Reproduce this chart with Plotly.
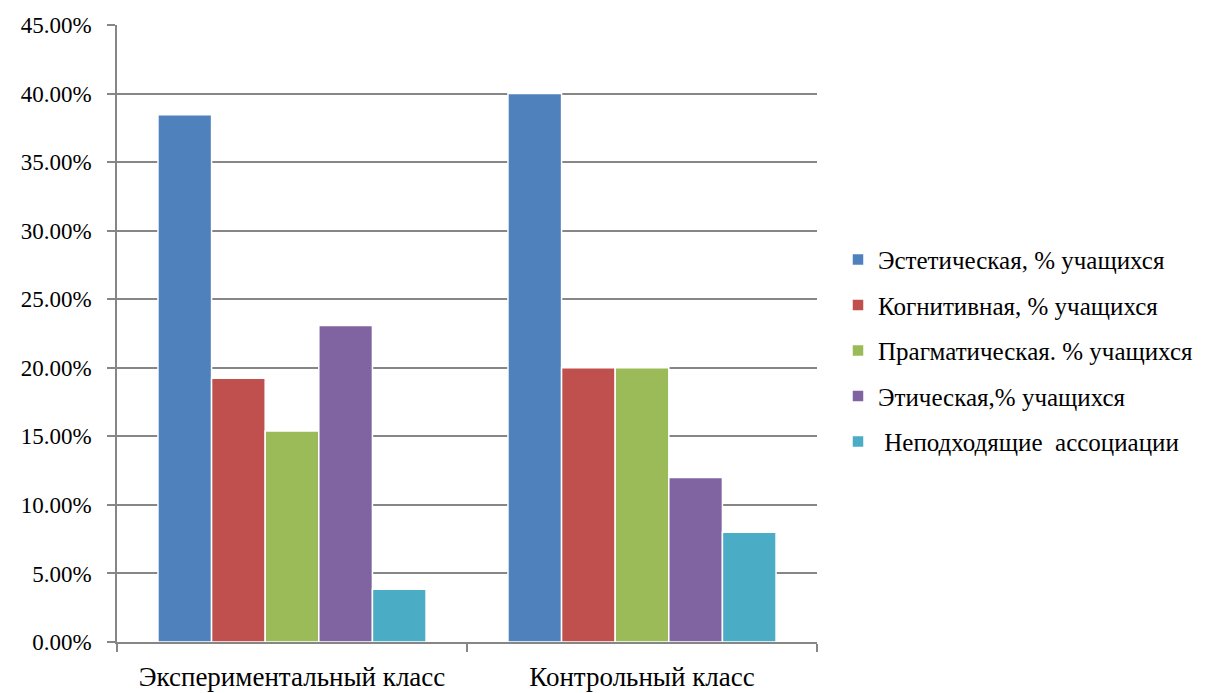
import plotly.graph_objects as go

categories = ["Экспериментальный класс", "Контрольный класс"]
series_names = [
    "Эстетическая, % учащихся",
    "Когнитивная, % учащихся",
    "Прагматическая. % учащихся",
    "Этическая,% учащихся",
    " Неподходящие  ассоциации",
]
aesthetic = [0.3846, 0.40]
cognitive = [0.1923, 0.20]
pragmatic = [0.1538, 0.20]
ethical = [0.2308, 0.12]
unsuitable = [0.0385, 0.08]
colors = ["#4F81BD", "#C0504D", "#9BBB59", "#8064A2", "#4BACC6"]

series_values = [aesthetic, cognitive, pragmatic, ethical, unsuitable]

fig = go.Figure()
for i, (name, vals) in enumerate(zip(series_names, series_values)):
    fig.add_trace(go.Bar(
        x=categories, y=vals, name=name,
        marker=dict(color=colors[i], line=dict(color="white", width=1.5)),
        legendgroup=f"g{i}",
    ))

FONT = "Liberation Serif, Times New Roman, serif"
fig.update_layout(
    width=1218, height=693,
    margin=dict(l=109, r=409, t=17, b=59),
    paper_bgcolor="white", plot_bgcolor="white",
    barmode="group", bargap=0.234, bargroupgap=0,
    font=dict(family=FONT, color="black", size=20),
    showlegend=True,
    legend=dict(
        x=1.030, y=0.472, xanchor="left", yanchor="middle",
        font=dict(family=FONT, size=25, color="black"),
        tracegroupgap=10, itemwidth=30,
    ),
    xaxis=dict(
        type="category", automargin=False,
        showline=True, linecolor="#868686", linewidth=1.5,
        ticks="outside", tickson="boundaries", ticklen=8, tickcolor="#868686", tickwidth=1.5,
        tickfont=dict(family=FONT, size=27, color="black"),
        ticklabelstandoff=10,
        showgrid=False,
    ),
    yaxis=dict(
        range=[0, 0.45], dtick=0.05, tick0=0, tickformat=".2%", automargin=False,
        showline=True, linecolor="#868686", linewidth=1.5,
        ticks="outside", ticklen=8, tickcolor="#868686", tickwidth=1.5,
        showgrid=True, gridcolor="#868686", gridwidth=1.5,
        tickfont=dict(family=FONT, size=23, color="black"),
        ticklabelstandoff=11,
        zeroline=False,
    ),
)

fig.write_html("out.html")
